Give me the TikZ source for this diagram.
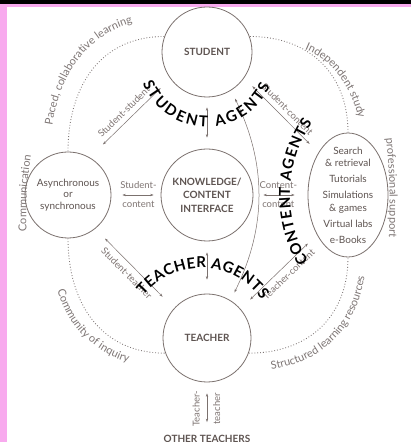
\documentclass[tikz,border=0pt]{standalone}
\usepackage{fontspec}
\setmainfont{Lato}
\usetikzlibrary{shapes.geometric,arrows.meta,decorations.text}
\definecolor{edgegray}{HTML}{7B716E}
\definecolor{inkgray}{HTML}{5E5451}
\definecolor{lblgray}{HTML}{7F7573}
\definecolor{ringgray}{HTML}{7E7675}
\definecolor{pinkbar}{HTML}{F8AAEE}
\begin{document}
\begin{tikzpicture}[x=1pt,y=1pt,
  agent/.style={circle,draw=edgegray,line width=.8pt,fill=white,inner sep=0pt,text=inkgray,align=center},
  caps/.style={font=\bfseries\fontsize{10}{13.5}\selectfont},
  link/.style={<->,>={Stealth[length=3.5pt,width=2.4pt]},draw=edgegray,line width=.5pt},
  lbl/.style={text=lblgray,font=\fontsize{9.5}{10}\selectfont,inner sep=2pt},
  ring/.style={draw=ringgray,dotted,line width=.85pt},
  ringtext/.style={decorate,decoration={text along path,text align=center,text color=ringgray,text={|\fontsize{11}{13}\selectfont|#1}}},
  agenttext/.style={decorate,decoration={text along path,text align={fit to path},text color=black,text={|\bfseries\fontsize{15}{17}\selectfont|#1}}}]
  \useasboundingbox (0,0) rectangle (411,442);
  \fill[white] (0,0) rectangle (411,442);
  \fill[pinkbar] (0,0) rectangle (7,438);
  \fill[pinkbar] (0,435) rectangle (411,438);
  \fill[black] (0,438) rectangle (411,442);

  \node[agent,caps,minimum size=90pt] (student) at (207,390) {STUDENT};
  \node[agent,caps,minimum size=92pt] (know) at (207,247) {KNOWLEDGE/\\CONTENT\\INTERFACE};
  \node[agent,caps,minimum size=88pt] (teacher) at (207,104) {TEACHER};
  \node[agent,minimum size=86pt,font=\fontsize{10}{11.5}\selectfont] (async) at (68,247) {Asynchronous\\or\\synchronous};
  \node[agent,ellipse,minimum width=80pt,minimum height=124pt,inner xsep=0pt,inner ysep=-8pt,
    font=\fontsize{10}{12.5}\selectfont] (content) at (348,247)
    {Search\\\& retrieval\\[3.5pt]Tutorials\\[3.5pt]Simulations\\\& games\\[3.5pt]Virtual labs\\[3.5pt]e-Books};
  \node[caps,text=inkgray,inner sep=0pt] (other) at (207,3) {OTHER TEACHERS};

  \foreach \from/\to/\o/\i in {student.160/async.north/180/90, async.south/teacher.200/270/180,
    teacher.-20/content.south/0/270, content.north/student.20/90/0}
    \draw[ring] (\from) to[out=\o,in=\i,looseness=1.1] (\to);

  \foreach \from/\to/\s/\e in {student.south/know.north/10pt/11pt, know.south/teacher.north/11pt/14pt}
    \draw[link,shorten <=\s,shorten >=\e] (\from) -- (\to);
  \draw[link,shorten <=9pt,shorten >=9pt] (student.-58) to[bend left=26] (teacher.58);

  \draw[link,shorten <=18.5pt,shorten >=13.5pt] (async.60) -- node[lbl,sloped,above=3pt] {Student-student} (student.216);
  \draw[link,shorten <=11.5pt,shorten >=12.4pt] (student.-35) -- node[lbl,sloped,above=3pt] {Student-content} (content.125);
  \draw[link,shorten <=13.8pt,shorten >=16.2pt] (async.-51) -- node[lbl,sloped,below=3pt,pos=.48] {Student-teacher} (teacher.138);
  \draw[link,shorten <=13.4pt,shorten >=12.6pt] (teacher.41) -- node[lbl,sloped,below=3pt,pos=.55] {Teacher-content} (content.232);
  \draw[link,shorten <=11pt,shorten >=7pt] (async.east) -- node[lbl,above=4pt,pos=.55] {Student-}
    node[lbl,below=4pt,pos=.55] {content} (know.west);
  \draw[link,shorten <=10pt,shorten >=13pt] (know.east) -- node[lbl,above=4pt,pos=.46] {Content-}
    node[lbl,below=4pt,pos=.46] {content} (content.west);
  \draw[link,shorten <=11pt,shorten >=13pt] (teacher.south) -- node[lbl,rotate=90,anchor=south,inner ysep=7pt] {Teacher-}
    node[lbl,rotate=90,anchor=north,inner ysep=6pt] {teacher} (other.north);

  \path[agenttext={STUDENT AGENTS}] (207,384) ++(201.5:69) arc[start angle=201.5,end angle=336,radius=69];
  \path[agenttext={TEACHER AGENTS}] (201,100) ++(141:74) arc[start angle=141,end angle=35,radius=74];
  \path[agenttext={CONTENT AGENTS}] (420,247) ++(211:130) arc[start angle=211,end angle=146,radius=130];

  \path[ringtext={Paced, collaborative learning}] (50,284) to[out=90,in=180,looseness=1.1] (165,423);
  \path[ringtext={Independent study}] (266,400) to[out=0,in=90,looseness=1.1] (363,284);
  \path[ringtext={Communication}] (27,205) to[bend left=6] (32,292);
  \path[ringtext={Community of inquiry}] (52,192) to[out=270,in=180,looseness=1.1] (168,74);
  \path[ringtext={Structured learning resources}] (250,71) to[out=0,in=270,looseness=1.1] (366,187);
  \path[ringtext={professional support}] (384,322) to[bend left=5] (388,186);
\end{tikzpicture}
\end{document}
